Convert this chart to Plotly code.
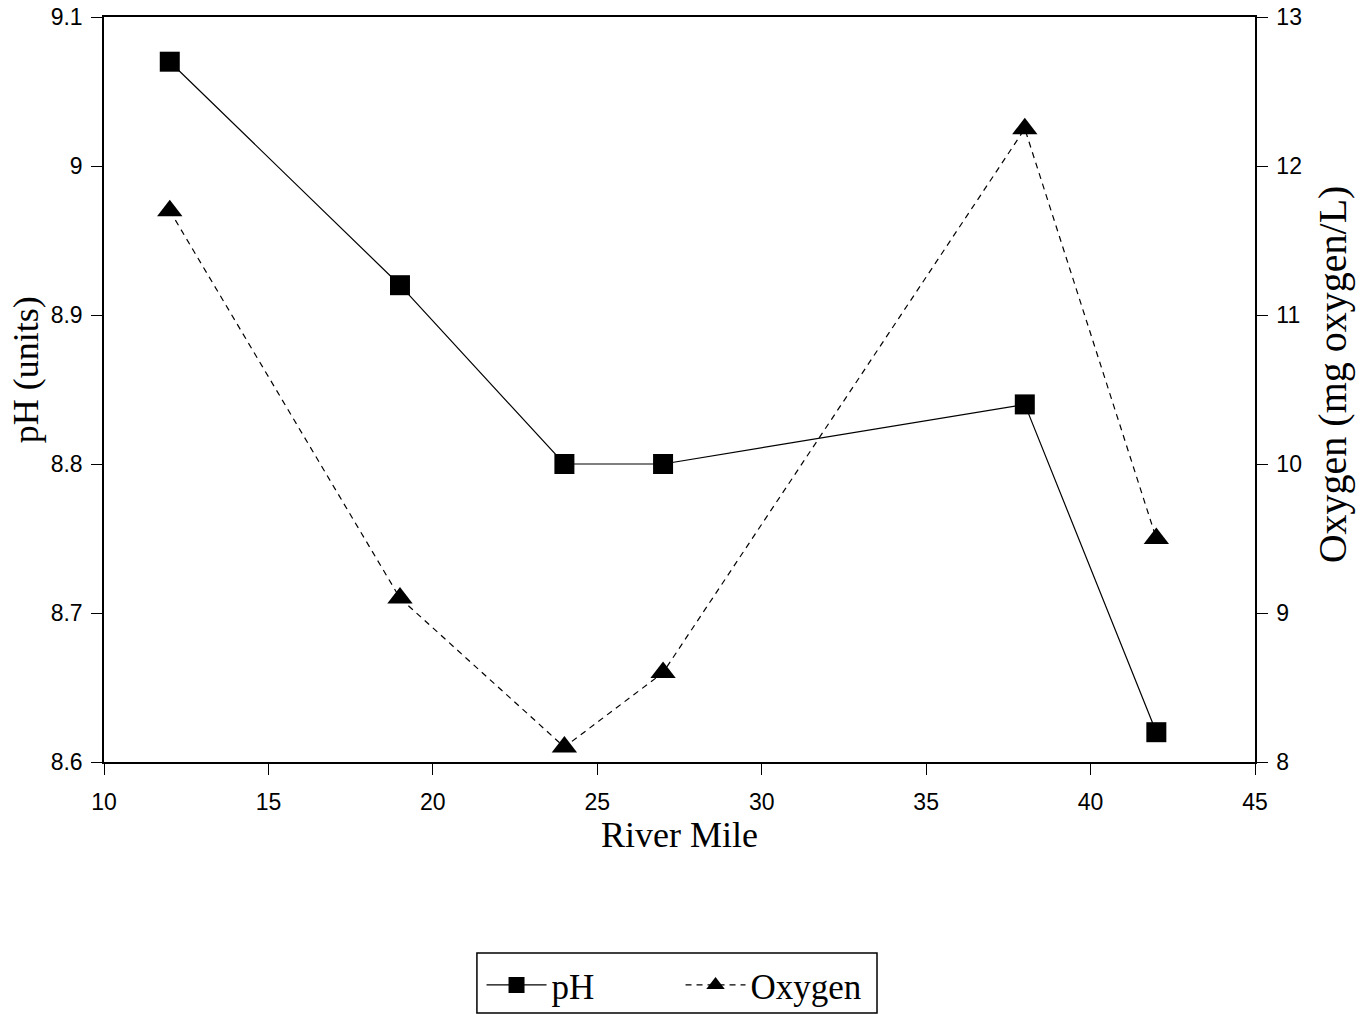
import plotly.graph_objects as go

# River survey: pH and dissolved oxygen by river mile
river_mile = [12, 19, 24, 27, 38, 42]
ph_units = [9.07, 8.92, 8.80, 8.80, 8.84, 8.62]
oxygen_mg_l = [11.7, 9.1, 8.1, 8.6, 12.25, 9.5]

x_ticks = [10, 15, 20, 25, 30, 35, 40, 45]
ph_ticks = [8.6, 8.7, 8.8, 8.9, 9.0, 9.1]
ph_tick_text = ["8.6", "8.7", "8.8", "8.9", "9", "9.1"]
oxy_ticks = [8, 9, 10, 11, 12, 13]

tick_font = dict(family="Liberation Sans, Arial, sans-serif", size=23, color="black")
serif = "Liberation Serif, Times New Roman, serif"
title_font = dict(family=serif, size=36, color="black")

fig = go.Figure()
fig.add_trace(go.Scatter(
    x=river_mile, y=ph_units, name="pH", mode="lines+markers",
    line=dict(color="black", width=1.2),
    marker=dict(symbol="square", size=20, color="black"),
    yaxis="y",
))
fig.add_trace(go.Scatter(
    x=river_mile, y=oxygen_mg_l, name="Oxygen", mode="lines+markers",
    line=dict(color="black", width=1.2, dash="6px,5px"),
    marker=dict(symbol="triangle-up", size=22, color="black"),
    yaxis="y2",
))

# legend frame drawn as a paper-space rectangle
fig.add_shape(
    type="rect", xref="paper", yref="paper",
    x0=0.324, x1=0.6716, y0=-0.3369, y1=-0.2564,
    line=dict(color="black", width=1.5), fillcolor="rgba(0,0,0,0)",
)

# vertical axis titles
fig.add_annotation(
    text="pH (units)", xref="paper", yref="paper", x=-0.067, y=0.527,
    xanchor="center", yanchor="middle", textangle=-90, showarrow=False,
    font=title_font,
)
fig.add_annotation(
    text="Oxygen (mg oxygen/L)", xref="paper", yref="paper", x=1.0675, y=0.52,
    xanchor="center", yanchor="middle", textangle=-90, showarrow=False,
    font=dict(family=serif, size=40, color="black"),
)

fig.update_layout(
    width=1365, height=1014,
    margin=dict(l=104, r=110, t=17, b=252, autoexpand=False),
    paper_bgcolor="white", plot_bgcolor="white",
    showlegend=True,
    legend=dict(
        orientation="h", x=0.328, y=-0.26, xanchor="left", yanchor="top",
        borderwidth=0, bgcolor="rgba(0,0,0,0)",
        font=dict(family=serif, size=35, color="black"),
        itemwidth=60, entrywidth=124, entrywidthmode="pixels",
    ),
    xaxis=dict(
        range=[10, 45], tickvals=x_ticks, ticks="outside", ticklen=11,
        tickcolor="black", tickfont=tick_font, showline=True, linecolor="black",
        linewidth=1.5, mirror=True, showgrid=False, zeroline=False,
        automargin=False, ticklabelstandoff=8,
        title=dict(text="River Mile", font=title_font, standoff=6),
    ),
    yaxis=dict(
        range=[8.6, 9.1], tickvals=ph_ticks, ticktext=ph_tick_text,
        ticks="outside", ticklen=11, tickcolor="black", tickfont=tick_font,
        ticklabelstandoff=4, automargin=False,
        showline=True, linecolor="black", linewidth=1.5, showgrid=False,
        zeroline=False,
    ),
    yaxis2=dict(
        range=[8, 13], tickvals=oxy_ticks, overlaying="y", side="right",
        ticks="outside", ticklen=11, tickcolor="black", tickfont=tick_font,
        ticklabelstandoff=4, automargin=False,
        showline=True, linecolor="black", linewidth=1.5, showgrid=False,
        zeroline=False,
    ),
)

fig.write_html("out.html")
